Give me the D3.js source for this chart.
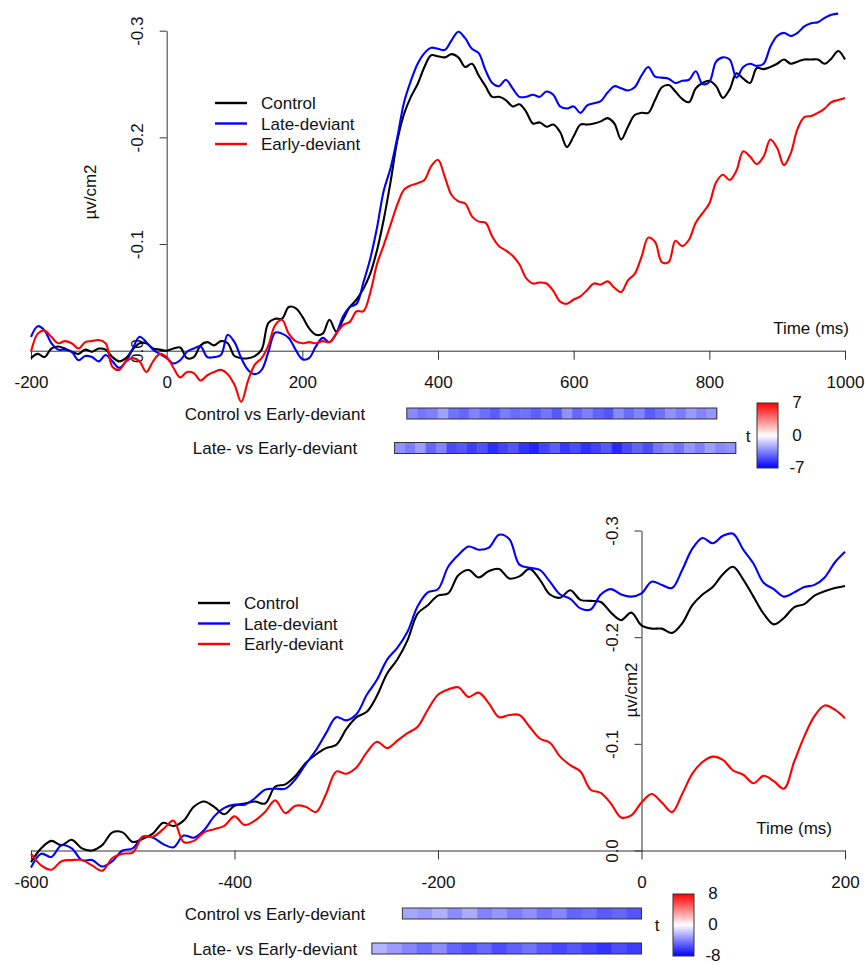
<!DOCTYPE html>
<html>
<head>
<meta charset="utf-8">
<script src="https://cdn.jsdelivr.net/npm/d3@7"></script>
<style>
body { margin: 0; background: #fff; }
text { font-family: "Liberation Sans", Arial, Helvetica, sans-serif; fill: #111; }
</style>
</head>
<body>
<script>
// time grids (ms), one sample every 10 ms
const topTime = d3.range(-200, 1001, 10);
const bottomTime = d3.range(-600, 201, 10);

const seriesNames = ['Control', 'Late-deviant', 'Early-deviant'];
const seriesColors = ['#000000', '#0000ff', '#ff0000'];

const topXTicks = [-200, 0, 200, 400, 600, 800, 1000];
const bottomXTicks = [-600, -400, -200, 0, 200];
const yTicks = [-0.3, -0.2, -0.1, 0];

// top panel: µv/cm2, -200 .. 1000 ms
const topControl = [
  0.007, 0.003, 0.006, -0.002, -0.004, -0.002, 0.001, 0.003, -0.001, 0.001,
  -0.002, -0.001, 0.006, 0.010, 0.007, -0.001, -0.007, -0.007, -0.002, -0.001,
  0.000, -0.002, -0.003, 0.007, 0.006, -0.005, -0.008, -0.005, -0.009, -0.007,
  0.005, 0.007, 0.007, 0.005, -0.001, -0.026, -0.030, -0.030, -0.041, -0.040,
  -0.032, -0.021, -0.015, -0.016, -0.029, -0.018, -0.029, -0.041, -0.048, -0.058,
  -0.072, -0.094, -0.123, -0.158, -0.197, -0.222, -0.238, -0.250, -0.266, -0.277,
  -0.276, -0.275, -0.278, -0.275, -0.266, -0.269, -0.258, -0.248, -0.238, -0.238,
  -0.235, -0.229, -0.231, -0.224, -0.213, -0.214, -0.210, -0.212, -0.205, -0.191,
  -0.201, -0.212, -0.212, -0.213, -0.215, -0.218, -0.213, -0.198, -0.210, -0.221,
  -0.223, -0.223, -0.235, -0.247, -0.249, -0.243, -0.236, -0.233, -0.246, -0.251,
  -0.253, -0.248, -0.237, -0.245, -0.260, -0.255, -0.251, -0.265, -0.264, -0.266,
  -0.269, -0.273, -0.269, -0.271, -0.273, -0.273, -0.273, -0.269, -0.274, -0.281,
  -0.273
];
const topLate = [
  -0.013, -0.023, -0.019, -0.007, -0.001, -0.001, 0.001, 0.009, 0.005, 0.006,
  0.010, 0.004, 0.010, 0.016, 0.010, -0.002, -0.013, -0.008, -0.001, 0.003,
  0.007, 0.012, 0.009, 0.001, -0.002, -0.004, 0.006, 0.006, 0.004, -0.015,
  -0.008, 0.007, 0.018, 0.022, 0.018, 0.001, -0.017, -0.016, -0.012, -0.001,
  0.008, 0.007, -0.004, -0.012, -0.008, -0.016, -0.032, -0.041, -0.044, -0.064,
  -0.086, -0.115, -0.150, -0.171, -0.200, -0.233, -0.253, -0.269, -0.279, -0.284,
  -0.283, -0.282, -0.291, -0.299, -0.293, -0.283, -0.279, -0.263, -0.251, -0.248,
  -0.254, -0.246, -0.238, -0.238, -0.240, -0.238, -0.243, -0.240, -0.229, -0.227,
  -0.229, -0.223, -0.230, -0.232, -0.234, -0.242, -0.248, -0.246, -0.244, -0.247,
  -0.258, -0.266, -0.257, -0.256, -0.255, -0.251, -0.253, -0.254, -0.262, -0.250,
  -0.252, -0.271, -0.275, -0.273, -0.256, -0.266, -0.269, -0.267, -0.269, -0.285,
  -0.295, -0.298, -0.295, -0.298, -0.304, -0.307, -0.308, -0.312, -0.315, -0.316,
  null
];
const topEarly = [
  0.001, -0.016, -0.019, -0.013, -0.007, -0.009, -0.007, -0.002, -0.008, -0.009,
  -0.010, -0.007, 0.015, 0.018, 0.010, 0.007, 0.010, 0.020, 0.010, 0.003,
  0.006, 0.016, 0.025, 0.020, 0.021, 0.028, 0.023, 0.020, 0.018, 0.022,
  0.032, 0.048, 0.028, 0.013, 0.007, -0.005, -0.024, -0.029, -0.016, -0.009,
  -0.007, -0.008, -0.007, -0.009, -0.008, -0.016, -0.024, -0.027, -0.037, -0.037,
  -0.054, -0.081, -0.099, -0.118, -0.137, -0.151, -0.155, -0.157, -0.160, -0.173,
  -0.179, -0.163, -0.146, -0.140, -0.138, -0.126, -0.121, -0.120, -0.107, -0.098,
  -0.094, -0.089, -0.081, -0.068, -0.063, -0.064, -0.063, -0.056, -0.046, -0.044,
  -0.048, -0.051, -0.057, -0.063, -0.062, -0.065, -0.059, -0.055, -0.066, -0.072,
  -0.088, -0.106, -0.102, -0.083, -0.083, -0.103, -0.098, -0.104, -0.120, -0.129,
  -0.138, -0.158, -0.165, -0.160, -0.169, -0.187, -0.182, -0.175, -0.182, -0.198,
  -0.190, -0.174, -0.185, -0.208, -0.219, -0.220, -0.223, -0.227, -0.233, -0.235,
  -0.237
];

// bottom panel: µv/cm2, -600 .. 200 ms
const bottomControl = [
  0.011, -0.002, -0.009, -0.005, -0.010, -0.002, 0.000, -0.005, -0.017, -0.017,
  -0.008, -0.011, -0.016, -0.026, -0.023, -0.028, -0.041, -0.046, -0.041, -0.034,
  -0.042, -0.044, -0.046, -0.044, -0.060, -0.062, -0.070, -0.082, -0.090, -0.096,
  -0.099, -0.114, -0.125, -0.130, -0.145, -0.166, -0.179, -0.197, -0.222, -0.230,
  -0.239, -0.241, -0.258, -0.263, -0.256, -0.262, -0.264, -0.255, -0.257, -0.264,
  -0.254, -0.240, -0.237, -0.244, -0.235, -0.234, -0.233, -0.223, -0.216, -0.223,
  -0.211, -0.208, -0.208, -0.204, -0.213, -0.230, -0.240, -0.247, -0.259, -0.266,
  -0.254, -0.238, -0.222, -0.212, -0.218, -0.228, -0.231, -0.239, -0.243, -0.246,
  -0.248
];
const bottomLate = [
  0.016, 0.003, 0.006, -0.005, -0.002, 0.009, 0.009, 0.015, 0.010, 0.000,
  -0.002, -0.013, -0.012, -0.006, -0.003, -0.014, -0.012, -0.019, -0.032, -0.040,
  -0.043, -0.043, -0.049, -0.057, -0.058, -0.058, -0.067, -0.081, -0.094, -0.110,
  -0.125, -0.122, -0.128, -0.146, -0.160, -0.179, -0.190, -0.205, -0.229, -0.242,
  -0.245, -0.266, -0.277, -0.285, -0.282, -0.284, -0.296, -0.292, -0.268, -0.265,
  -0.263, -0.252, -0.240, -0.236, -0.227, -0.226, -0.240, -0.245, -0.240, -0.238,
  -0.241, -0.252, -0.249, -0.246, -0.263, -0.283, -0.293, -0.288, -0.295, -0.297,
  -0.282, -0.269, -0.251, -0.245, -0.238, -0.242, -0.247, -0.249, -0.256, -0.270,
  -0.280
];
const bottomEarly = [
  0.003, 0.014, 0.018, 0.010, 0.009, 0.009, 0.014, 0.019, 0.007, 0.003,
  0.002, -0.013, -0.013, -0.020, -0.028, -0.008, -0.009, -0.017, -0.020, -0.023,
  -0.032, -0.024, -0.028, -0.036, -0.047, -0.035, -0.042, -0.041, -0.036, -0.053,
  -0.074, -0.072, -0.078, -0.092, -0.102, -0.096, -0.103, -0.110, -0.116, -0.132,
  -0.146, -0.151, -0.153, -0.144, -0.148, -0.138, -0.125, -0.127, -0.127, -0.116,
  -0.105, -0.101, -0.088, -0.080, -0.074, -0.057, -0.054, -0.044, -0.031, -0.033,
  -0.045, -0.053, -0.045, -0.036, -0.053, -0.072, -0.083, -0.088, -0.085, -0.075,
  -0.071, -0.063, -0.070, -0.065, -0.058, -0.083, -0.107, -0.126, -0.136, -0.132,
  -0.124
];

// t-statistic strips
const compNames = ['Control vs Early-deviant', 'Late- vs Early-deviant'];
const topSpans = [[354, 811], [336, 839]];
const topT1 = [-3.2, -3.8, -3.5, -2.6, -3.9, -4.2, -3.4, -4.0, -4.5, -3.6, -4.1, -3.9, -4.4, -3.8, -4.6,
  -3.0, -4.2, -3.5, -4.3, -4.7, -3.2, -4.1, -3.4, -4.5, -3.9, -3.0, -3.6, -2.8, -3.4, -2.9];
const topT2 = [-3.0, -3.6, -2.7, -4.2, -3.4, -5.0, -4.6, -5.3, -4.8, -5.8, -5.2, -4.7, -5.6, -6.0, -5.1, -4.4,
  -5.5, -4.9, -5.7, -5.2, -4.6, -5.9, -5.0, -4.3, -4.9, -3.8, -3.2, -3.9, -2.9, -3.5, -2.7, -3.3, -3.0];
const bottomSpans = [[-235, 0], [-265, 0]];
const bottomT1 = [-2.8, -3.2, -2.5, -3.6, -2.6, -3.9, -3.3, -4.1, -3.5, -4.4, -3.8, -4.9, -4.5, -5.2, -4.8, -5.4];
const bottomT2 = [-2.4, -3.1, -3.8, -4.5, -3.6, -4.9, -5.4, -4.7, -5.6, -5.0, -4.4, -5.2, -5.8, -5.3, -5.9, -6.4, -5.6, -6.1];

const svg = d3.select('body').append('svg')
  .attr('width', 865)
  .attr('height', 965);

const grad = svg.append('defs').append('linearGradient')
  .attr('id', 'tgrad')
  .attr('x1', 0).attr('y1', 1).attr('x2', 0).attr('y2', 0);
grad.append('stop').attr('offset', '0%').attr('stop-color', 'blue');
grad.append('stop').attr('offset', '50%').attr('stop-color', 'white');
grad.append('stop').attr('offset', '100%').attr('stop-color', 'red');

function label(g, x, y, str, anchor, rot) {
  const t = g.append('text')
    .attr('font-size', 17)
    .attr('text-anchor', anchor || 'start')
    .text(str);
  if (rot) t.attr('transform', `translate(${x},${y}) rotate(-90)`);
  else t.attr('x', x).attr('y', y);
  return t;
}

function drawPanel(p) {
  const g = svg.append('g');
  const x = d3.scaleLinear().domain(p.xDomain).range([31, 845]);
  const y = d3.scaleLinear().domain([0, -0.3]).range([p.y0, p.y0 - 320]);

  const xAxis = g.append('g')
    .attr('transform', `translate(0,${p.y0})`)
    .call(d3.axisBottom(x).tickValues(p.xTicks).tickSize(9).tickSizeOuter(0).tickFormat(d => String(d)));
  xAxis.selectAll('text').attr('y', 37).attr('dy', null).attr('font-size', 17);

  const yAxis = g.append('g')
    .attr('transform', `translate(${x(0)},0)`)
    .call(d3.axisLeft(y).tickValues(yTicks).tickSize(7).tickSizeOuter(0).tickFormat(d => d.toFixed(1)));
  yAxis.selectAll('text')
    .attr('x', null).attr('dy', null)
    .attr('text-anchor', 'middle')
    .attr('font-size', 17)
    .attr('transform', 'translate(-24,0) rotate(-90)');

  g.selectAll('.domain, .tick line').attr('stroke', '#333');
  g.selectAll('.tick text').attr('fill', '#111');
  xAxis.attr('font-family', null);
  yAxis.attr('font-family', null);

  label(g, p.yTitle[0], p.yTitle[1], 'µv/cm2', 'middle', true);
  label(g, p.timeLabel[0], p.timeLabel[1], 'Time (ms)', 'end');

  const line = d3.line()
    .defined(d => d[1] != null)
    .x(d => x(d[0]))
    .y(d => y(d[1]))
    .curve(d3.curveCatmullRom);

  p.series.forEach((vals, i) => {
    g.append('path')
      .datum(vals.map((v, j) => [p.time[j], v]))
      .attr('d', line)
      .attr('fill', 'none')
      .attr('stroke', seriesColors[i])
      .attr('stroke-width', 2.1);
  });

  // legend
  seriesNames.forEach((name, i) => {
    const ly = p.legend[1] + i * 20.5;
    g.append('line')
      .attr('x1', p.legend[0]).attr('x2', p.legend[0] + 32)
      .attr('y1', ly).attr('y2', ly)
      .attr('stroke', seriesColors[i])
      .attr('stroke-width', 2.4);
    label(g, p.legend[0] + 46, ly + 6, name);
  });

  // t strips
  const color = d3.scaleLinear()
    .domain([-p.tLim, 0, p.tLim])
    .range(['blue', 'white', 'red']);
  p.strips.forEach((vals, k) => {
    const cy = p.stripY[k];
    const [t0, t1] = p.spans[k];
    const w = (t1 - t0) / vals.length;
    label(g, 275, cy + 6, compNames[k], 'middle');
    g.append('g').selectAll('rect')
      .data(vals)
      .join('rect')
      .attr('x', (d, j) => x(t0 + j * w))
      .attr('width', (d, j) => x(t0 + (j + 1) * w) - x(t0 + j * w) + 0.4)
      .attr('y', cy - 5.5)
      .attr('height', 11)
      .attr('fill', d => color(d));
    g.append('rect')
      .attr('x', x(t0)).attr('width', x(t1) - x(t0))
      .attr('y', cy - 5.5).attr('height', 11)
      .attr('fill', 'none')
      .attr('stroke', '#333')
      .attr('stroke-width', 1);
  });

  // colour key
  const [cx, cTop, cBot] = p.key;
  const ky = d3.scaleLinear().domain([-p.tLim, p.tLim]).range([cBot, cTop]);
  g.append('rect')
    .attr('x', cx).attr('width', 21)
    .attr('y', ky(p.tLim)).attr('height', ky(-p.tLim) - ky(p.tLim))
    .attr('fill', 'url(#tgrad)')
    .attr('stroke', '#333')
    .attr('stroke-width', 1);
  [p.tLim, 0, -p.tLim].forEach(v => {
    label(g, cx + 40, ky(v) + 5, String(v), 'middle');
  });
  label(g, cx - p.tOffset, ky(0) + 6, 't', 'middle');
}

drawPanel({
  xDomain: [-200, 1000],
  xTicks: topXTicks,
  y0: 350.7,
  time: topTime,
  series: [topControl, topLate, topEarly],
  yTitle: [96, 192],
  timeLabel: [849, 334],
  legend: [215, 103],
  strips: [topT1, topT2],
  spans: topSpans,
  stripY: [413.5, 448],
  tLim: 7,
  key: [757, 403, 468],
  tOffset: 9
});

drawPanel({
  xDomain: [-600, 200],
  xTicks: bottomXTicks,
  y0: 850.5,
  time: bottomTime,
  series: [bottomControl, bottomLate, bottomEarly],
  yTitle: [637, 690],
  timeLabel: [832, 834],
  legend: [198, 603],
  strips: [bottomT1, bottomT2],
  spans: bottomSpans,
  stripY: [913.5, 948.5],
  tLim: 8,
  key: [673, 894, 956],
  tOffset: 16
});
</script>
</body>
</html>
